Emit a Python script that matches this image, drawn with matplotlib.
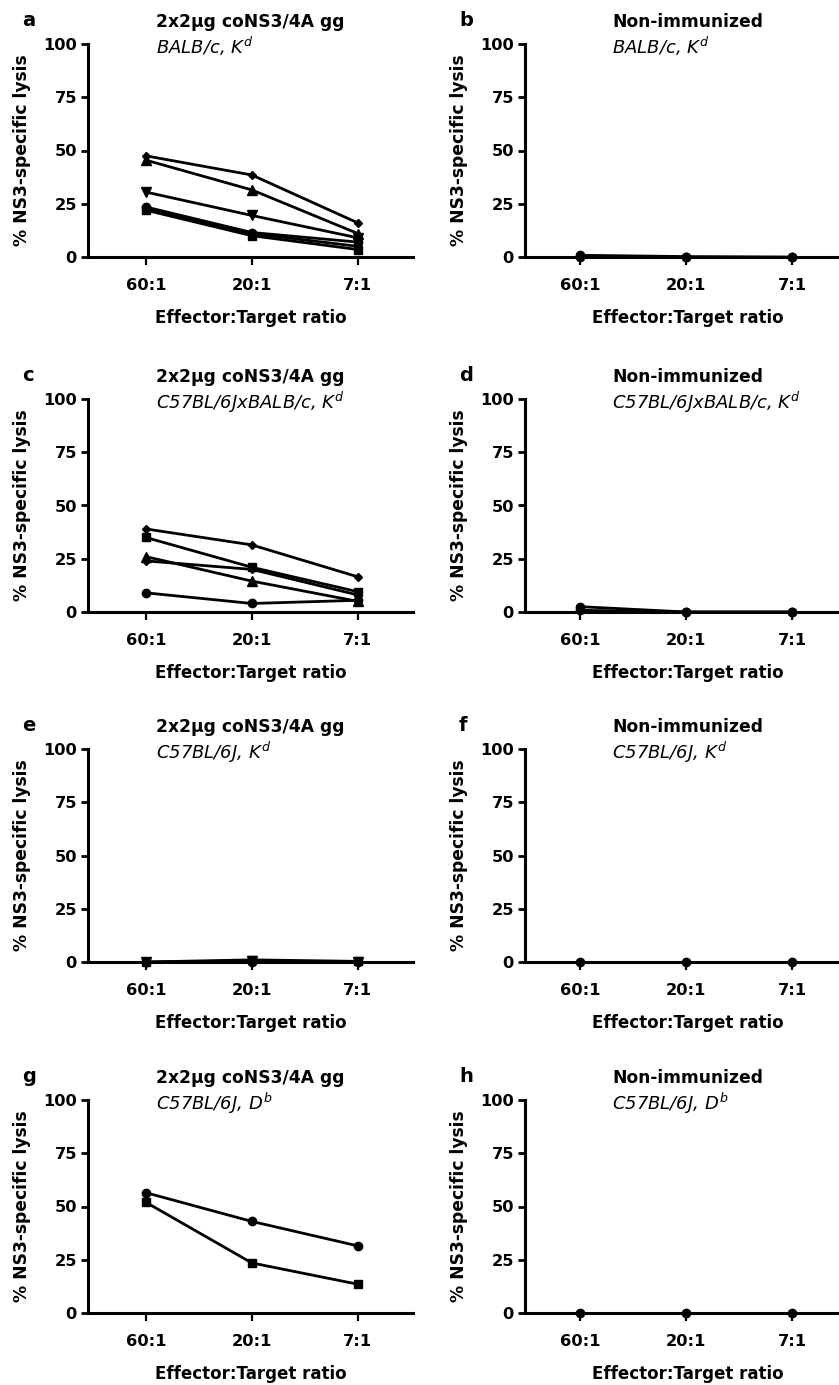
import matplotlib
matplotlib.use('Agg')
import matplotlib.pyplot as plt

plt.rcParams['font.family'] = ['DejaVu Sans']
plt.rcParams['mathtext.fontset'] = 'custom'
plt.rcParams['mathtext.it'] = 'DejaVu Sans:italic'
plt.rcParams['mathtext.rm'] = 'DejaVu Sans'

ratios = ['60:1', '20:1', '7:1']
letters = ['a', 'b', 'c', 'd', 'e', 'f', 'g', 'h']
titles = ['2x2\u03bcg coNS3/4A gg', 'Non-immunized'] * 4
subtitles = ['BALB/c, $K^d$', 'BALB/c, $K^d$',
             'C57BL/6JxBALB/c, $K^d$', 'C57BL/6JxBALB/c, $K^d$',
             'C57BL/6J, $K^d$', 'C57BL/6J, $K^d$',
             'C57BL/6J, $D^b$', 'C57BL/6J, $D^b$']

# % lysis per mouse, one list per mouse (60:1, 20:1, 7:1)
panel_a = [[47.5, 38.5, 16], [45.5, 31.5, 11], [30.5, 19.5, 9],
           [23.5, 11.5, 7], [23, 11, 5], [22, 10, 3.5]]
markers_a = ['D', '^', 'v', 'o', 'D', 's']
panel_b = [[0.8, 0.2, 0], [0, 0, 0]]
markers_b = ['o', 'o']
panel_c = [[39, 31.5, 16.5], [35, 21, 9.5], [26, 14.5, 5],
           [24, 20, 8], [9, 4, 5.5]]
markers_c = ['D', 's', '^', 'D', 'o']
panel_d = [[2.5, 0, 0], [0.8, 0, 0]]
markers_d = ['o', 'o']
panel_e = [[0, 0.5, 0], [0, 1, 0.3], [0, 0, 0]]
markers_e = ['v', 's', 'o']
panel_f = [[0, 0, 0]]
markers_f = ['o']
panel_g = [[56.5, 43, 31.5], [52, 23.5, 13.5]]
markers_g = ['o', 's']
panel_h = [[0, 0, 0]]
markers_h = ['o']

panels = [panel_a, panel_b, panel_c, panel_d, panel_e, panel_f, panel_g, panel_h]
markers = [markers_a, markers_b, markers_c, markers_d, markers_e, markers_f, markers_g, markers_h]

W, H = 839, 1385
fig = plt.figure(figsize=(W / 100, H / 100), dpi=100)

col_x = [88, 525]
row_top = [44, 399, 749, 1100]
aw, ah = 325, 213
xlims = [(0.455, 3.52), (0.48, 3.545)]

axes = []
for i in range(8):
    r, c = divmod(i, 2)
    x0 = col_x[c]
    top = row_top[r]
    ax = fig.add_axes([x0 / W, (H - top - ah) / H, aw / W, ah / H])
    for vals, m in zip(panels[i], markers[i]):
        ms = {'o': 6, 's': 6, 'D': 4.5}.get(m, 6.5)
        ax.plot([1, 2, 3], vals, color='black', lw=2, marker=m, ms=ms, clip_on=False, zorder=3)
    ax.set_xlim(*xlims[c])
    ax.set_ylim(0, 100)
    ax.set_yticks([0, 25, 50, 75, 100])
    ax.set_xticks([1, 2, 3])
    ax.set_xticklabels(ratios)
    for s in ['top', 'right']:
        ax.spines[s].set_visible(False)
    for s in ['left', 'bottom']:
        ax.spines[s].set_linewidth(2.2)
    ax.tick_params(axis='y', length=5, width=2, pad=3, labelsize=11.7)
    ax.tick_params(axis='x', length=6, width=1.6, pad=9, labelsize=11.7)
    for lab in ax.get_xticklabels() + ax.get_yticklabels():
        lab.set_fontweight('bold')
    ax.set_ylabel('% NS3-specific lysis', fontsize=12.3, fontweight='bold')
    ax.yaxis.set_label_coords(-0.175, 0.5)
    ax.set_xlabel('Effector:Target ratio', fontsize=12, fontweight='bold', va='top')
    ax.xaxis.set_label_coords(0.5, -52 / ah)
    t = ax.text(0.5, 1 + 17 / ah, titles[i], transform=ax.transAxes, ha='center',
                va='baseline', fontsize=12.3, fontweight='bold')
    axes.append((ax, t))
    fig.text((x0 - 66) / W, (H - top + 18) / H, letters[i], fontsize=14,
             fontweight='bold', ha='left', va='baseline')

fig.canvas.draw()
renderer = fig.canvas.get_renderer()
for i, (ax, t) in enumerate(axes):
    bb = t.get_window_extent(renderer)
    x_left = ax.transAxes.inverted().transform((bb.x0, bb.y0))[0]
    ax.text(x_left, 1 - 10 / ah, subtitles[i], transform=ax.transAxes, ha='left',
            va='baseline', fontsize=13, style='italic')

fig.savefig('out.png', dpi=100)
